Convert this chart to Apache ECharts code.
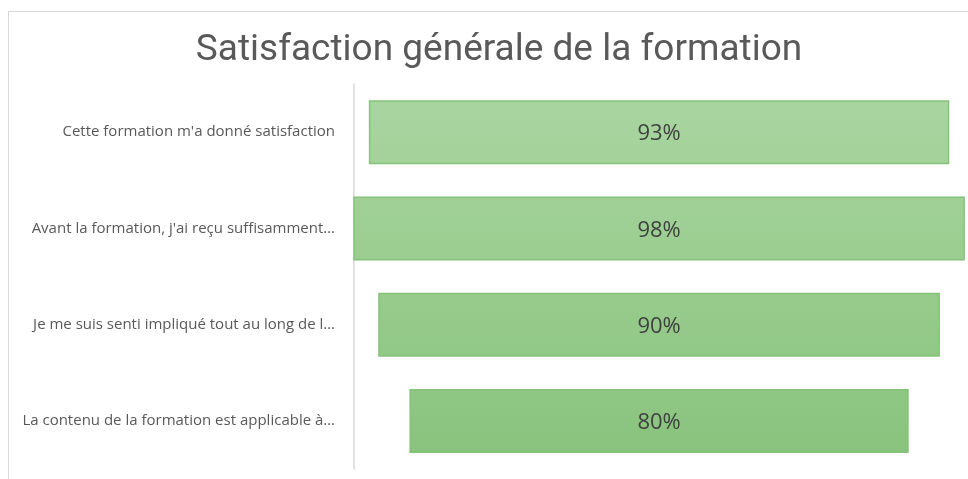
<!DOCTYPE html>
<html>
<head>
<meta charset="utf-8">
<script src="https://cdn.jsdelivr.net/npm/echarts@6/dist/echarts.min.js"></script>
<style>
    html, body { margin: 0; padding: 0; background: #fff; }
    .frame {
        position: absolute; left: 8px; top: 11px; width: 1000px; height: 500px;
        border-left: 1px solid #d9d9d9; border-top: 1px solid #d9d9d9;
    }
    #chart { position: absolute; left: 0; top: 0; width: 968px; height: 479px; }
</style>
</head>
<body>
<div class="frame"></div>
<div id="chart"></div>
<script>
    const categories = [
        "Cette formation m'a donné satisfaction",
        "Avant la formation, j'ai reçu suffisamment…",
        "Je me suis senti impliqué tout au long de l…",
        "La contenu de la formation est applicable à…"
    ]
    const values = [93, 98, 90, 80]

    // invisible padding so each bar is centred on 50
    const padding = values.map(v => (100 - v) / 2)

    const chart = echarts.init(document.getElementById('chart'))

    chart.setOption({
        animation: false,
        title: {
            text: 'Satisfaction générale de la formation',
            left: 494,
            textAlign: 'center',
            top: 27,
            textStyle: {
                fontFamily: 'Roboto',
                fontWeight: 'normal',
                fontSize: 37,
                color: '#595959'
            }
        },
        grid: {
            left: 347,
            top: 84,
            right: 0,
            height: 385
        },
        xAxis: {
            type: 'value',
            min: 0,
            max: 99.5,
            show: false
        },
        yAxis: {
            type: 'category',
            inverse: true,
            data: categories,
            offset: -7,
            axisTick: {show: false},
            axisLine: {lineStyle: {color: '#d9d9d9', width: 1.5}},
            axisLabel: {
                margin: 19,
                fontFamily: 'Open Sans',
                fontSize: 15,
                color: '#595959'
            }
        },
        series: [
            {
                type: 'bar',
                stack: 'funnel',
                data: padding,
                barWidth: 64,
                itemStyle: {color: 'transparent'},
                silent: true
            },
            {
                type: 'bar',
                stack: 'funnel',
                data: values,
                barWidth: 64,
                itemStyle: {
                    color: new echarts.graphic.LinearGradient(0, 100, 0, 453, [
                        {offset: 0, color: '#a9d5a0'},
                        {offset: 1, color: '#89c37d'}
                    ], true),
                    borderColor: '#84c478',
                    borderWidth: 1.5
                },
                label: {
                    show: true,
                    position: 'inside',
                    offset: [0, 2],
                    formatter: '{c}%',
                    fontFamily: 'Open Sans',
                    fontSize: 22,
                    color: '#404040'
                }
            }
        ]
    })
</script>
</body>
</html>
